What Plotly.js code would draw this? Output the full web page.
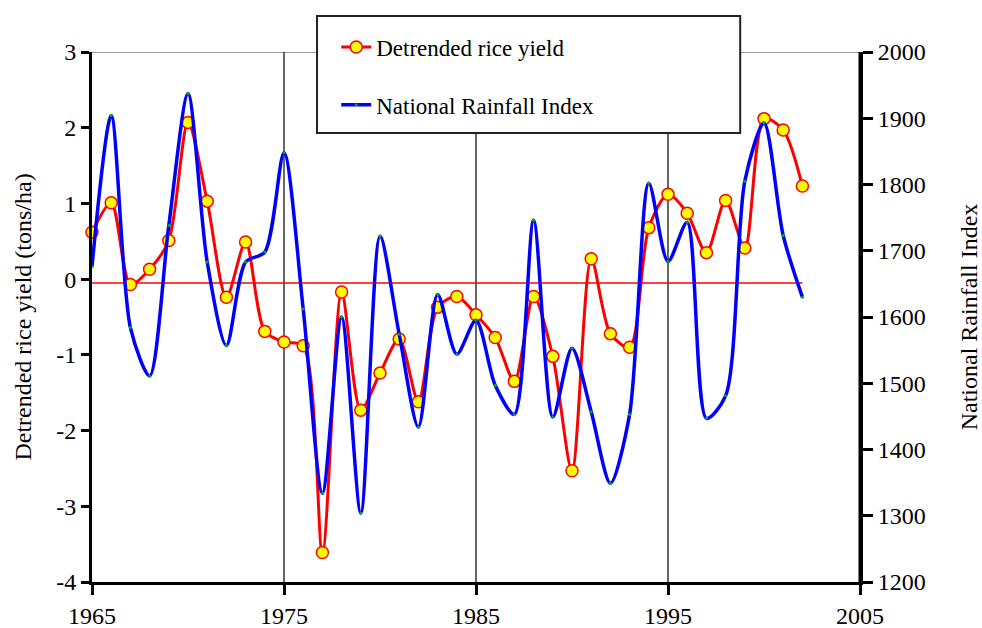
<!DOCTYPE html>
<html>
<head>
<meta charset="utf-8">
<script src="https://cdn.plot.ly/plotly-3.0.1.min.js"></script>
<style>html,body{margin:0;padding:0;background:#fff;}#chart{width:982px;height:628px;}</style>
</head>
<body>
<div id="chart"></div>
<script>
const years = [1965,1966,1967,1968,1969,1970,1971,1972,1973,1974,1975,1976,1977,1978,1979,1980,1981,1982,1983,1984,1985,1986,1987,1988,1989,1990,1991,1992,1993,1994,1995,1996,1997,1998,1999,2000,2001,2002];
const riceYield = [0.62,1.01,-0.07,0.13,0.51,2.07,1.03,-0.24,0.49,-0.69,-0.83,-0.88,-3.61,-0.17,-1.73,-1.24,-0.79,-1.62,-0.37,-0.23,-0.47,-0.77,-1.35,-0.23,-1.02,-2.53,0.27,-0.72,-0.90,0.68,1.12,0.87,0.35,1.04,0.41,2.12,1.97,1.23];
const rainfall = [1676,1904,1584,1511,1738,1937,1683,1557,1683,1698,1848,1612,1334,1600,1304,1722,1574,1434,1634,1544,1595,1497,1453,1746,1449,1553,1457,1349,1453,1802,1684,1743,1447,1481,1805,1893,1723,1630];
const leftTicks = [3,2,1,0,-1,-2,-3,-4];
const leftTickText = ["3","2","1","0","-1","-2","-3","-4"];
const rightTicks = [2000,1900,1800,1700,1600,1500,1400,1300,1200];
const xTicks = [1965,1975,1985,1995,2005];
const zeroLine = -0.05;

const FONT = "Liberation Serif, Times New Roman, serif";

const traces = [
  {
    x: years, y: riceYield, name: "Detrended rice yield", type: "scatter", mode: "lines+markers",
    line: {color: "#ff0000", width: 3, shape: "spline", smoothing: 0.8},
    marker: {size: 12, color: "#ffff00", line: {color: "#ff0000", width: 1.5}},
    legendgroup: "a", xaxis: "x", yaxis: "y", cliponaxis: false
  },
  {
    x: years, y: rainfall, name: "National Rainfall Index", type: "scatter", mode: "lines+markers",
    line: {color: "#0000ff", width: 3.5, shape: "spline", smoothing: 0.8},
    marker: {size: 3, color: "#00b000", symbol: "circle"},
    legendgroup: "b", xaxis: "x", yaxis: "y2"
  }
];

const axisFont = {family: FONT, size: 24, color: "#000"};

const layout = {
  width: 982, height: 628,
  margin: {l: 92, r: 122, t: 52, b: 46},
  paper_bgcolor: "#fff", plot_bgcolor: "#fff",
  font: {family: FONT, color: "#000"},
  showlegend: true,
  legend: {
    x: 0.318, y: 1.05, xanchor: "left", yanchor: "top",
    bgcolor: "rgba(0,0,0,0)", borderwidth: 0,
    font: {family: FONT, size: 23, color: "#000"},
    traceorder: "grouped", tracegroupgap: 25
  },
  xaxis: {
    range: [1965, 2005], tickvals: xTicks, ticktext: xTicks.map(String),
    showgrid: false, zeroline: false,
    showline: true, linecolor: "#000", linewidth: 3,
    ticks: "outside", ticklen: 10, tickwidth: 3, tickcolor: "#000",
    tickfont: axisFont, fixedrange: true
  },
  yaxis: {
    range: [-4, 3], tickvals: leftTicks, ticktext: leftTickText,
    showgrid: false, zeroline: false,
    showline: true, linecolor: "#000", linewidth: 3,
    ticks: "outside", ticklen: 8, tickwidth: 3, tickcolor: "#000",
    tickfont: axisFont,
    title: {text: "Detrended rice yield (tons/ha)", font: {family: FONT, size: 24, color: "#000"}, standoff: 18}
  },
  yaxis2: {
    range: [1200, 2000], tickvals: rightTicks, ticktext: rightTicks.map(String),
    overlaying: "y", side: "right",
    showgrid: false, zeroline: false,
    showline: true, linecolor: "#000", linewidth: 3,
    ticks: "outside", ticklen: 10, tickwidth: 3, tickcolor: "#000",
    tickfont: axisFont,
    title: {text: "National Rainfall Index", font: {family: FONT, size: 24, color: "#000"}, standoff: 38}
  },
  shapes: [
    {type: "line", xref: "x", yref: "y", x0: 1965, x1: 2005, y0: 3, y1: 3, line: {color: "#999", width: 2}, layer: "below"},
    {type: "line", xref: "x", yref: "y", x0: 1975, x1: 1975, y0: -4, y1: 3, line: {color: "#333", width: 1.5}, layer: "below"},
    {type: "line", xref: "x", yref: "y", x0: 1985, x1: 1985, y0: -4, y1: 3, line: {color: "#333", width: 1.5}, layer: "below"},
    {type: "line", xref: "x", yref: "y", x0: 1995, x1: 1995, y0: -4, y1: 3, line: {color: "#333", width: 1.5}, layer: "below"},
    {type: "line", xref: "x", yref: "y", x0: 1965, x1: 2002, y0: zeroLine, y1: zeroLine, line: {color: "#ff0000", width: 1.5}, layer: "below"},
    {type: "rect", xref: "paper", yref: "paper", x0: 0.293, x1: 0.844, y0: 0.847, y1: 1.068, fillcolor: "#fff", line: {color: "#222", width: 2}, layer: "above"},
    {type: "line", xref: "x", yref: "y2", x0: 2005, x1: 2005, y0: 1200, y1: 2000, line: {color: "#000", width: 3}, layer: "above"}
  ]
};

Plotly.newPlot("chart", traces, layout, {displayModeBar: false, staticPlot: true});
</script>
</body>
</html>
